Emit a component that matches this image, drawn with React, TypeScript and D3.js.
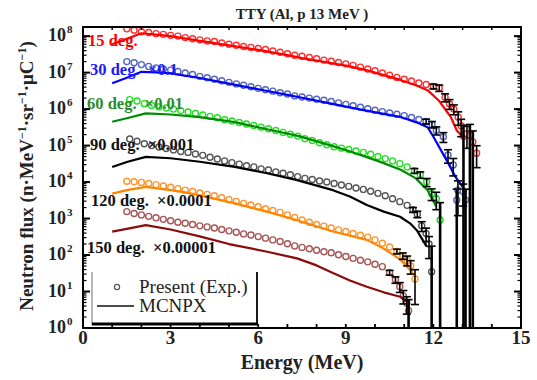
import React from "react";
import * as d3 from "d3";

// ---- Data (plotted values, already multiplied by the scale factors) ----
// [energy MeV, flux] or [energy MeV, flux, relative error]
const exp15: number[][] = [
  [1.5, 1.58e8], [1.75, 1.45e8], [2.0, 1.32e8], [2.25, 1.26e8], [2.5, 1.17e8], [2.75, 1.12e8],
  [3.0, 1.05e8], [3.25, 1.0e8], [3.5, 9.1e7], [3.75, 8.5e7], [4.0, 7.9e7], [4.25, 7.4e7],
  [4.5, 7.1e7], [4.75, 6.5e7], [5.0, 6.0e7], [5.25, 5.6e7], [5.5, 5.2e7], [5.75, 4.9e7],
  [6.0, 4.6e7], [6.25, 4.3e7], [6.5, 3.9e7], [6.75, 3.6e7], [7.0, 3.3e7], [7.25, 3.0e7],
  [7.5, 2.8e7], [7.75, 2.6e7], [8.0, 2.4e7], [8.25, 2.2e7], [8.5, 2.04e7], [8.75, 1.9e7],
  [9.0, 1.74e7], [9.25, 1.58e7], [9.5, 1.41e7], [9.75, 1.26e7], [10.0, 1.12e7], [10.25, 9.8e6],
  [10.5, 8.5e6], [10.75, 7.4e6], [11.0, 6.6e6], [11.25, 5.9e6], [11.5, 5.2e6], [11.75, 4.7e6],
  [12.0, 4.2e6, 0.15], [12.2, 3.8e6, 0.2], [12.4, 2.1e6, 0.25], [12.55, 1.4e6, 0.3], [12.7, 1.0e6, 0.3],
  [12.85, 6.0e5, 0.4], [12.95, 3.5e5, 0.5], [13.03, 1.8e5, 1.0], [13.15, 2.1e5, 0.6],
  [13.25, 1.9e5, 1.0], [13.35, 1.26e5, 1.0], [13.48, 6.2e4, 0.6],
];
const mc15: number[][] = [
  [1.0, 6.0e7], [1.5, 8.5e7], [2.0, 1.2e8], [2.5, 1.1e8], [3.0, 1.0e8], [4.0, 7.4e7], [5.0, 5.6e7],
  [6.0, 4.2e7], [7.0, 3.0e7], [7.5, 2.5e7], [8.5, 1.82e7], [9.0, 1.55e7], [9.7, 1.17e7],
  [10.3, 8.5e6], [10.9, 6.2e6], [11.4, 4.5e6], [11.8, 3.3e6], [12.2, 1.66e6], [12.6, 6.0e5],
  [12.8, 2.6e5], [13.0, 1.74e5],
];

const exp30: number[][] = [
  [1.5, 2.0e7], [1.75, 1.86e7], [2.0, 1.66e7], [2.25, 1.48e7], [2.5, 1.35e7], [2.75, 1.26e7],
  [3.0, 1.17e7], [3.25, 1.07e7], [3.5, 9.8e6], [3.75, 8.9e6], [4.0, 7.9e6], [4.25, 7.2e6],
  [4.5, 6.6e6], [4.75, 6.0e6], [5.0, 5.4e6], [5.25, 4.9e6], [5.5, 4.5e6], [5.75, 4.1e6],
  [6.0, 3.7e6], [6.25, 3.4e6], [6.5, 3.1e6], [6.75, 2.8e6], [7.0, 2.6e6], [7.25, 2.3e6],
  [7.5, 2.14e6], [7.75, 2.0e6], [8.0, 1.86e6], [8.25, 1.74e6], [8.5, 1.62e6], [8.75, 1.48e6],
  [9.0, 1.35e6], [9.25, 1.23e6], [9.5, 1.12e6], [9.75, 1.02e6], [10.0, 9.3e5], [10.25, 8.5e5],
  [10.5, 7.8e5], [10.75, 7.2e5], [11.0, 6.6e5], [11.25, 5.9e5], [11.5, 5.2e5], [11.75, 4.6e5, 0.15],
  [11.95, 3.8e5, 0.2], [12.1, 2.6e5, 0.25], [12.34, 1.74e5, 0.3], [12.5, 5.5e4, 0.4],
  [12.68, 2.95e4, 0.5], [12.8, 3.2e3, 1.0], [12.84, 6.0e3, 0.8], [13.02, 5.5e3, 0.6], [13.1, 3.2e3, 1.0],
];
const mc30: number[][] = [
  [1.0, 5.1e6], [1.5, 7.2e6], [2.0, 1.05e7], [2.5, 1.02e7], [3.0, 9.5e6], [4.0, 7.1e6], [5.0, 5.0e6],
  [6.0, 3.5e6], [7.0, 2.45e6], [7.5, 2.04e6], [8.5, 1.41e6], [9.0, 1.17e6], [9.7, 9.1e5],
  [10.3, 7.4e5], [10.9, 6.0e5], [11.4, 4.4e5], [11.8, 3.2e5], [12.0, 1.74e5], [12.45, 4.0e4],
  [12.75, 1.41e4], [13.0, 7.4e3],
];

const exp60: number[][] = [
  [1.6, 1.82e6], [1.85, 1.66e6], [2.1, 1.41e6], [2.35, 1.26e6], [2.6, 1.15e6], [2.85, 1.07e6],
  [3.1, 1.0e6], [3.35, 9.1e5], [3.6, 8.3e5], [3.85, 7.6e5], [4.1, 6.9e5], [4.35, 6.3e5],
  [4.6, 5.8e5], [4.85, 5.1e5], [5.1, 4.7e5], [5.35, 4.3e5], [5.6, 3.9e5], [5.85, 3.55e5],
  [6.1, 3.2e5], [6.35, 2.9e5], [6.6, 2.6e5], [6.85, 2.3e5], [7.1, 2.04e5], [7.35, 1.82e5],
  [7.6, 1.55e5], [7.85, 1.38e5], [8.1, 1.2e5], [8.35, 1.05e5], [8.6, 9.3e4], [8.85, 8.5e4],
  [9.1, 7.8e4], [9.35, 7.1e4], [9.6, 6.5e4], [9.85, 5.8e4], [10.1, 5.0e4], [10.35, 4.4e4],
  [10.6, 3.8e4], [10.85, 3.2e4], [11.1, 2.6e4], [11.35, 2.04e4, 0.15], [11.55, 1.58e4, 0.2],
  [11.77, 1.0e4, 0.25], [11.94, 4.8e3, 0.35], [12.1, 3.5e3, 0.5], [12.23, 9.1e2, 2.0],
];
const mc60: number[][] = [
  [1.0, 4.5e5], [1.5, 5.6e5], [2.15, 7.6e5], [3.0, 7.1e5], [4.0, 6.0e5], [5.2, 4.4e5], [6.3, 2.8e5],
  [7.4, 1.82e5], [8.5, 1.0e5], [9.1, 7.1e4], [9.7, 4.9e4], [10.3, 3.3e4], [10.9, 2.14e4],
  [11.4, 1.26e4], [11.8, 6.0e3], [12.1, 2.1e3],
];

const exp90: number[][] = [
  [1.6, 1.51e5], [1.85, 1.32e5], [2.1, 1.12e5], [2.35, 1.0e5], [2.6, 9.1e4], [2.85, 8.3e4],
  [3.1, 7.6e4], [3.35, 6.9e4], [3.6, 6.5e4], [3.85, 5.9e4], [4.1, 5.4e4], [4.35, 4.8e4],
  [4.6, 4.3e4], [4.85, 3.8e4], [5.1, 3.4e4], [5.35, 3.1e4], [5.6, 2.8e4], [5.85, 2.6e4],
  [6.1, 2.3e4], [6.35, 2.14e4], [6.6, 1.9e4], [6.85, 1.74e4], [7.1, 1.58e4], [7.35, 1.41e4],
  [7.6, 1.26e4], [7.85, 1.17e4], [8.1, 1.07e4], [8.35, 1.0e4], [8.6, 9.1e3], [8.85, 8.3e3],
  [9.1, 7.6e3], [9.35, 6.9e3], [9.6, 6.3e3], [9.85, 5.6e3], [10.1, 4.9e3], [10.35, 4.2e3],
  [10.6, 3.5e3], [10.85, 2.9e3], [11.1, 2.3e3], [11.3, 1.74e3, 0.15], [11.45, 1.32e3, 0.2],
  [11.6, 6.3e2, 0.3], [11.75, 3.9e2, 0.4], [11.85, 2.0e2, 0.6], [11.94, 35, 4.0],
];
const mc90: number[][] = [
  [1.0, 2.6e4], [1.5, 3.55e4], [2.15, 4.9e4], [3.0, 4.5e4], [4.0, 3.6e4], [5.2, 2.6e4], [6.3, 1.74e4],
  [7.3, 1.15e4], [8.56, 6.0e3], [9.14, 4.0e3], [9.72, 2.34e3], [10.3, 1.55e3], [10.86, 1.12e3],
  [11.2, 7.4e2], [11.43, 4.8e2], [11.77, 1.7e2],
];

const exp120: number[][] = [
  [1.5, 1.05e4], [1.75, 1.02e4], [2.0, 9.8e3], [2.25, 9.1e3], [2.5, 8.5e3], [2.75, 7.8e3],
  [3.0, 7.2e3], [3.25, 6.6e3], [3.5, 6.0e3], [3.75, 5.5e3], [4.0, 5.0e3], [4.25, 4.6e3],
  [4.5, 4.2e3], [4.75, 3.7e3], [5.0, 3.3e3], [5.25, 2.95e3], [5.5, 2.6e3], [5.75, 2.34e3],
  [6.0, 2.1e3], [6.25, 1.86e3], [6.5, 1.66e3], [6.75, 1.48e3], [7.0, 1.26e3], [7.25, 1.07e3],
  [7.5, 9.1e2], [7.75, 7.9e2], [8.0, 6.9e2], [8.25, 6.2e2], [8.5, 5.5e2], [8.75, 4.9e2],
  [9.0, 4.4e2], [9.25, 3.9e2], [9.5, 3.5e2], [9.75, 3.1e2], [10.0, 2.6e2], [10.25, 2.1e2],
  [10.5, 1.66e2], [10.75, 1.26e2, 0.15], [10.95, 95, 0.2], [11.1, 72, 0.3], [11.22, 50, 0.4],
  [11.37, 22, 0.8],
];
const mc120: number[][] = [
  [1.0, 4.8e3], [1.5, 6.0e3], [2.15, 7.4e3], [3.0, 6.0e3], [3.5, 5.2e3], [4.3, 3.8e3], [5.2, 2.6e3],
  [6.3, 1.55e3], [7.3, 9.1e2], [8.56, 4.4e2], [9.72, 2.6e2], [10.3, 1.5e2], [10.86, 76], [11.3, 32],
];

const exp150: number[][] = [
  [1.5, 1.55e3], [1.75, 1.38e3], [2.0, 1.26e3], [2.25, 1.15e3], [2.5, 1.05e3], [2.75, 9.5e2],
  [3.0, 8.7e2], [3.25, 7.9e2], [3.5, 7.4e2], [3.75, 6.9e2], [4.0, 6.3e2], [4.25, 5.9e2],
  [4.5, 5.5e2], [4.75, 5.0e2], [5.0, 4.6e2], [5.25, 4.2e2], [5.5, 3.8e2], [5.75, 3.55e2],
  [6.0, 3.2e2], [6.25, 2.9e2], [6.5, 2.6e2], [6.75, 2.34e2], [7.0, 2.04e2], [7.25, 1.78e2],
  [7.5, 1.62e2], [7.75, 1.48e2], [8.0, 1.35e2], [8.25, 1.23e2], [8.5, 1.15e2], [8.75, 1.02e2],
  [9.0, 91], [9.25, 81], [9.5, 72], [9.75, 65], [10.0, 56], [10.25, 48], [10.5, 33, 0.15],
  [10.7, 21, 0.2], [10.85, 13.5, 0.3], [10.97, 7.6, 0.4], [11.09, 4.8, 0.5], [11.15, 3.0, 1.0],
];
const mc150: number[][] = [
  [1.0, 4.4e2], [1.5, 5.2e2], [2.15, 6.6e2], [3.0, 5.0e2], [4.03, 3.2e2], [5.0, 2.0e2], [6.31, 1.23e2],
  [7.33, 81], [8.0, 52], [8.56, 32], [9.14, 20], [9.72, 13.5], [10.3, 9.5], [10.86, 7.2], [11.09, 5.2],
];

const angleLabels = ["15 deg.", "30 deg.  ×0.1", "60 deg.  ×0.01", "90 deg.  ×0.001", "120 deg.  ×0.0001", "150 deg.  ×0.00001"];
const xTickLabels = [0, 3, 6, 9, 12, 15];
const yDecades = [0, 1, 2, 3, 4, 5, 6, 7, 8];
const legendLabels = ["Present (Exp.)", "MCNPX"];
const titleText = "TTY (Al, p 13 MeV )";

// ---- Layout ----
const W = 537, H = 380;
const L = 83, R = 521, T = 27, B = 328;
const FONT = '"Liberation Serif", "Times New Roman", Times, serif';

const x = d3.scaleLinear().domain([0, 15]).range([L, R]);
const y = d3.scaleLog().domain([1, Math.pow(10, 8.25)]).range([B, T]);

const series = [
  { exp: exp15, mc: mc15, label: angleLabels[0], dc: "#ff3030", lc: "#ff0000", tc: "#ff0000", lx: 88, ly: 46 },
  { exp: exp30, mc: mc30, label: angleLabels[1], dc: "#5565c0", lc: "#0000ff", tc: "#1a1aff", lx: 90, ly: 75 },
  { exp: exp60, mc: mc60, label: angleLabels[2], dc: "#22e022", lc: "#008a00", tc: "#2a8c2a", lx: 87, ly: 109 },
  { exp: exp90, mc: mc90, label: angleLabels[3], dc: "#555555", lc: "#000000", tc: "#111111", lx: 90, ly: 150 },
  { exp: exp120, mc: mc120, label: angleLabels[4], dc: "#ff9530", lc: "#ff8400", tc: "#111111", lx: 91, ly: 206 },
  { exp: exp150, mc: mc150, label: angleLabels[5], dc: "#a85454", lc: "#8b0a0a", tc: "#111111", lx: 87, ly: 253 },
];

const line = d3.line<number[]>().x((d) => x(d[0])).y((d) => y(d[1]));

export default function App() {
  const minorTicks: number[] = [];
  for (let e = 0; e < 9; e++) for (let m = 2; m <= 9; m++) {
    const v = m * Math.pow(10, e);
    if (y(v) >= T) minorTicks.push(v);
  }
  const xMinor = d3.range(0, 16, 1);
  return (
    <svg width={W} height={H} style={{ display: "block", position: "absolute", left: 0, top: 0, background: "#fff", fontFamily: FONT }}>
      <defs>
        <clipPath id="plot"><rect x={L} y={T} width={R - L} height={B - T} /></clipPath>
      </defs>
      <rect x={0} y={0} width={W} height={H} fill="#fff" />
      {/* title */}
      <text x={(L + R) / 2} y={19} textAnchor="middle" fontSize={15} fontWeight="bold" fill="#222">{titleText}</text>

      <g clipPath="url(#plot)">
        {series.map((s, i) => (
          <g key={"e" + i}>
            {s.exp.map((d, j) => (
              <circle key={j} cx={x(d[0])} cy={y(d[1])} r={3} fill="#fff" stroke={s.dc} strokeWidth={1.4} />
            ))}
          </g>
        ))}
        {series.map((s, i) => (
          <path key={"m" + i} d={line(s.mc) || ""} fill="none" stroke={s.lc} strokeWidth={2.2} strokeLinejoin="round" />
        ))}
        {series.map((s, i) => (
          <g key={"b" + i} stroke="#000" strokeWidth={1.6}>
            {s.exp.filter((d) => d.length > 2).map((d, j) => {
              const up = d[1] * (1 + d[2]);
              const lo = d[1] * (1 - d[2]);
              const yu = y(up);
              const yl = lo >= 1 ? y(lo) : B + 2;
              const cx = x(d[0]);
              const big = d[2] >= 1;
              return (
                <g key={j}>
                  <line x1={cx} x2={cx} y1={yu} y2={yl} strokeWidth={big ? 2.6 : 1.6} />
                  <line x1={cx - 4} x2={cx + 4} y1={yu} y2={yu} />
                  {lo >= 1 && <line x1={cx - 4} x2={cx + 4} y1={yl} y2={yl} />}
                </g>
              );
            })}
          </g>
        ))}
      </g>

      {/* angle labels */}
      {series.map((s, i) => (
        <text key={"l" + i} x={s.lx} y={s.ly} fontSize={16.5} fontWeight="bold" fill={s.tc} style={{ whiteSpace: "pre" }}>{s.label}</text>
      ))}

      {/* legend */}
      <g>
        <line x1={92} x2={92} y1={272} y2={325} stroke="#888" strokeWidth={1.2} />
        <line x1={257} x2={257} y1={272} y2={325} stroke="#000" strokeWidth={1.8} />
        <line x1={92} x2={258} y1={324} y2={324} stroke="#000" strokeWidth={3} />
        <circle cx={117} cy={287} r={2.6} fill="#fff" stroke="#555" strokeWidth={1.2} />
        <text x={139} y={293} fontSize={19} fill="#222">{legendLabels[0]}</text>
        <line x1={97} x2={134} y1={306} y2={306} stroke="#111" strokeWidth={1.6} />
        <text x={139} y={312} fontSize={19} fill="#222">{legendLabels[1]}</text>
      </g>

      {/* frame */}
      <rect x={L} y={T} width={R - L} height={B - T} fill="none" stroke="#000" strokeWidth={2} />
      {/* y ticks */}
      {yDecades.map((e) => {
        const yy = y(Math.pow(10, e));
        return (
          <g key={"yt" + e}>
            <line x1={L} x2={L + 7} y1={yy} y2={yy} stroke="#000" strokeWidth={2} />
            <line x1={R} x2={R - 7} y1={yy} y2={yy} stroke="#000" strokeWidth={2} />
            <text x={66} y={yy + 5} textAnchor="end" fontSize={18} fontWeight="bold" fill="#222">10</text>
            <text x={67} y={yy - 3} textAnchor="start" fontSize={11} fontWeight="bold" fill="#222">{e}</text>
          </g>
        );
      })}
      {minorTicks.map((v, i) => (
        <g key={"ym" + i}>
          <line x1={L} x2={L + 3.5} y1={y(v)} y2={y(v)} stroke="#000" strokeWidth={1.2} />
          <line x1={R} x2={R - 3.5} y1={y(v)} y2={y(v)} stroke="#000" strokeWidth={1.2} />
        </g>
      ))}
      {/* x ticks */}
      {xMinor.map((v) => (
        <g key={"xt" + v}>
          <line x1={x(v)} x2={x(v)} y1={B} y2={B - 4} stroke="#000" strokeWidth={1.8} />
          <line x1={x(v)} x2={x(v)} y1={T} y2={T + 3} stroke="#000" strokeWidth={1.5} />
        </g>
      ))}
      {xTickLabels.map((v) => (
        <text key={"xl" + v} x={x(v)} y={344} textAnchor="middle" fontSize={19} fontWeight="bold" fill="#222">{v}</text>
      ))}
      {/* axis titles */}
      <text x={(L + R) / 2} y={369} textAnchor="middle" fontSize={20} fontWeight="bold" fill="#222">Energy (MeV)</text>
      <text transform={`translate(33,176) rotate(-90)`} textAnchor="middle" fontSize={19} fontWeight="bold" fill="#222">
        Neutron flux (n·MeV<tspan dy={-7} fontSize={12}>−1</tspan><tspan dy={7}>·sr</tspan><tspan dy={-7} fontSize={12}>−1</tspan><tspan dy={7}>·μC</tspan><tspan dy={-7} fontSize={12}>−1</tspan><tspan dy={7}>)</tspan>
      </text>
    </svg>
  );
}
